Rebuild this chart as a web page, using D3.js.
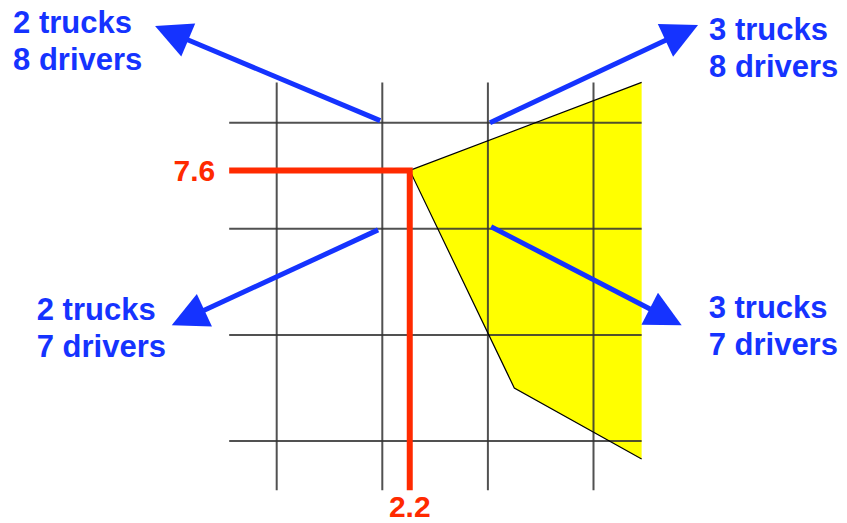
<!DOCTYPE html>
<html>
<head>
<meta charset="utf-8">
<script src="https://cdn.jsdelivr.net/npm/d3@7"></script>
<style>
    body { margin: 0; background: #fff; }
    svg { display: block; }
</style>
</head>
<body>
<svg id="chart" width="847" height="523"></svg>
<script>
// grid values (trucks on x, drivers on y)
const xTicks = [1, 2, 3, 4];
const yTicks = [5, 6, 7, 8];
const xExtent = [0.55, 4.456];
const yExtent = [4.536, 8.38];

// feasible region (yellow)
const region = [[4.456, 8.38], [2.26, 7.55], [3.25, 5.5], [4.456, 4.83]];

// optimum of the relaxation
const optimum = [2.26, 7.55];
const optimumLabels = { x: "2.2", y: "7.6" };

// neighbouring integer points
const arrows = [
    { from: [1.98, 8.02], to: [-0.152, 8.911], lines: ["2 trucks", "8 drivers"], dx: -142, dy: 7 },
    { from: [3.02, 8.0], to: [4.99, 8.92], lines: ["3 trucks", "8 drivers"], dx: 11, dy: 15 },
    { from: [1.96, 6.99], to: [0.006, 6.09], lines: ["2 trucks", "7 drivers"], dx: -135, dy: -5 },
    { from: [3.03, 7.02], to: [4.835, 6.09], lines: ["3 trucks", "7 drivers"], dx: 27, dy: -7 }
];

const blue = "#1533ff";
const red = "#ff2a00";
const font = "'Liberation Sans', Arial, sans-serif";

const svg = d3.select("#chart");

const x = d3.scaleLinear().domain([1, 4]).range([276.7, 593.5]);
const y = d3.scaleLinear().domain([5, 8]).range([441, 122.7]);

// yellow region fill
svg.append("polygon")
    .attr("points", region.map(p => x(p[0]) + "," + y(p[1])).join(" "))
    .attr("fill", "#ffff00");

// grid
const grid = svg.append("g")
    .attr("stroke", "#333")
    .attr("stroke-width", 2)
    .attr("stroke-opacity", 0.85);

grid.selectAll("line.v")
    .data(xTicks)
    .enter().append("line")
    .attr("class", "v")
    .attr("x1", d => x(d)).attr("x2", d => x(d))
    .attr("y1", y(yExtent[0])).attr("y2", y(yExtent[1]));

grid.selectAll("line.h")
    .data(yTicks)
    .enter().append("line")
    .attr("class", "h")
    .attr("y1", d => y(d)).attr("y2", d => y(d))
    .attr("x1", x(xExtent[0])).attr("x2", x(xExtent[1]));

// region outline (not the right edge)
svg.append("path")
    .attr("d", d3.line().x(d => x(d[0])).y(d => y(d[1]))(region))
    .attr("fill", "none")
    .attr("stroke", "#000")
    .attr("stroke-width", 1.2);

// red drop lines
svg.append("path")
    .attr("d", d3.line()([
        [x(xExtent[0]), y(optimum[1])],
        [x(optimum[0]), y(optimum[1])],
        [x(optimum[0]), y(yExtent[0])]
    ]))
    .attr("fill", "none")
    .attr("stroke", red)
    .attr("stroke-width", 6)
    .attr("stroke-linejoin", "miter");

svg.append("text")
    .attr("x", x(xExtent[0]) - 14)
    .attr("y", y(optimum[1]) + 11)
    .attr("text-anchor", "end")
    .attr("font-family", font)
    .attr("font-weight", "bold")
    .attr("font-size", 30)
    .attr("fill", red)
    .text(optimumLabels.y);

svg.append("text")
    .attr("x", x(optimum[0]))
    .attr("y", 517)
    .attr("text-anchor", "middle")
    .attr("font-family", font)
    .attr("font-weight", "bold")
    .attr("font-size", 30)
    .attr("fill", red)
    .text(optimumLabels.x);

// arrows
const headLen = 36, headHalf = 18;

arrows.forEach(a => {
    const x0 = x(a.from[0]), y0 = y(a.from[1]);
    const x1 = x(a.to[0]), y1 = y(a.to[1]);
    const len = Math.hypot(x1 - x0, y1 - y0);
    const ux = (x1 - x0) / len, uy = (y1 - y0) / len;
    const bx = x1 - ux * headLen, by = y1 - uy * headLen;

    svg.append("line")
        .attr("x1", x0).attr("y1", y0)
        .attr("x2", bx + ux * 2).attr("y2", by + uy * 2)
        .attr("stroke", blue)
        .attr("stroke-width", 5);

    svg.append("polygon")
        .attr("points", [
            [x1, y1],
            [bx - uy * headHalf, by + ux * headHalf],
            [bx + uy * headHalf, by - ux * headHalf]
        ].map(p => p.join(",")).join(" "))
        .attr("fill", blue);

    const t = svg.append("text")
        .attr("font-family", font)
        .attr("font-weight", "bold")
        .attr("font-size", 31)
        .attr("fill", blue);

    a.lines.forEach((s, i) => {
        t.append("tspan")
            .attr("x", x1 + a.dx)
            .attr("y", y1 + a.dy + i * 36.5)
            .text(s);
    });
});
</script>
</body>
</html>
